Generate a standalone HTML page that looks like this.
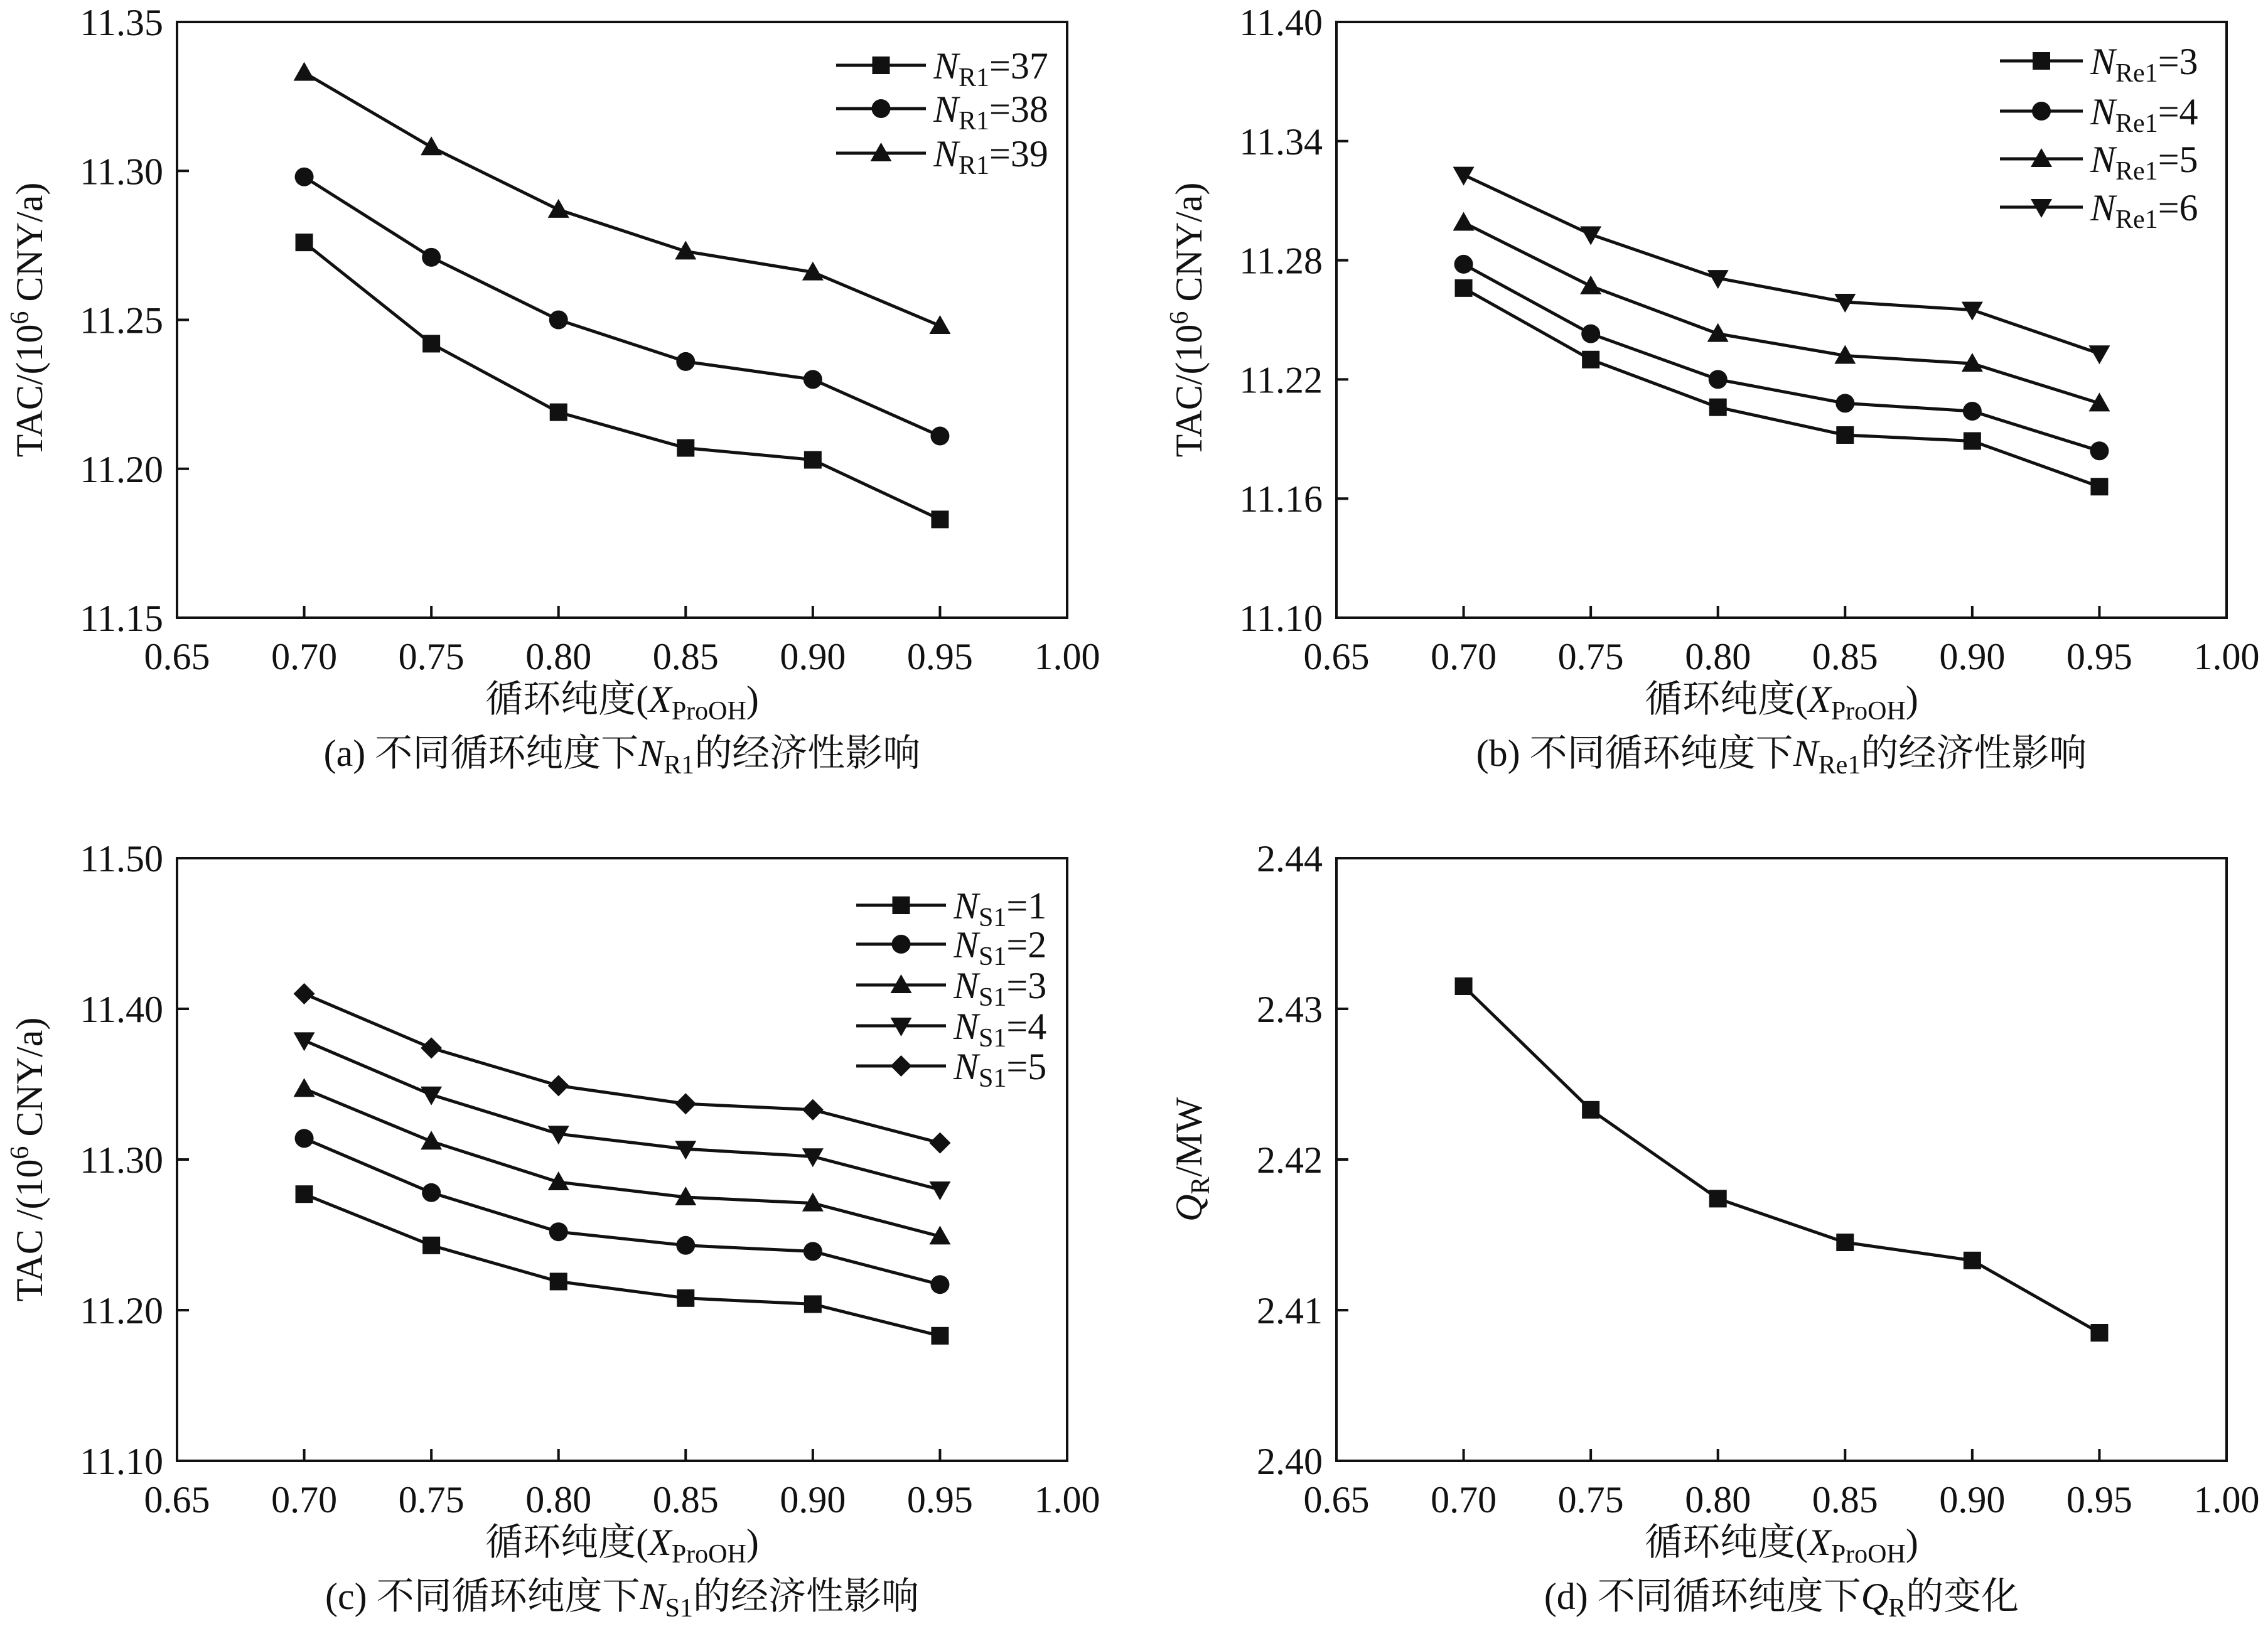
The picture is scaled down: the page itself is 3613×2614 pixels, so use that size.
<!DOCTYPE html>
<html><head><meta charset="utf-8">
<style>
html,body{margin:0;padding:0;background:#fff;}
svg{display:block;font-family:"Liberation Serif","Noto Serif CJK SC","Noto Sans CJK SC",serif;}
svg text{font-family:"Liberation Serif","Noto Serif CJK SC","Noto Sans CJK SC",serif;fill:#111;}
</style></head>
<body>
<svg id="fig" width="3613" height="2614" viewBox="0 0 3613 2614" xmlns="http://www.w3.org/2000/svg" font-family="'Liberation Serif', 'Noto Serif CJK SC', serif"></svg>
<script>
const xCats = [0.70, 0.75, 0.80, 0.85, 0.90, 0.95];
const xTicks = ["0.65","0.70","0.75","0.80","0.85","0.90","0.95","1.00"];
// panel a
const aTicks = ["11.15","11.20","11.25","11.30","11.35"];
const aN37 = [11.276, 11.242, 11.219, 11.207, 11.203, 11.183];
const aN38 = [11.298, 11.271, 11.250, 11.236, 11.230, 11.211];
const aN39 = [11.333, 11.308, 11.287, 11.273, 11.266, 11.248];
// panel b
const bTicks = ["11.10","11.16","11.22","11.28","11.34","11.40"];
const bRe3 = [11.266, 11.230, 11.206, 11.192, 11.189, 11.166];
const bRe4 = [11.278, 11.243, 11.220, 11.208, 11.204, 11.184];
const bRe5 = [11.299, 11.267, 11.243, 11.232, 11.228, 11.208];
const bRe6 = [11.323, 11.293, 11.271, 11.259, 11.255, 11.233];
// panel c
const cTicks = ["11.10","11.20","11.30","11.40","11.50"];
const cS1 = [11.277, 11.243, 11.219, 11.208, 11.204, 11.183];
const cS2 = [11.314, 11.278, 11.252, 11.243, 11.239, 11.217];
const cS3 = [11.347, 11.312, 11.285, 11.275, 11.271, 11.249];
const cS4 = [11.379, 11.343, 11.317, 11.307, 11.302, 11.280];
const cS5 = [11.410, 11.374, 11.349, 11.337, 11.333, 11.311];
// panel d
const dTicks = ["2.40","2.41","2.42","2.43","2.44"];
const dQR = [2.4315, 2.4233, 2.4174, 2.4145, 2.4133, 2.4085];

const NS="http://www.w3.org/2000/svg";
const svg=document.getElementById('fig');
const FF="'Liberation Serif', 'Noto Serif CJK SC', serif";
function mk(tag, attrs, parent){const e=document.createElementNS(NS,tag);for(const k in attrs)e.setAttribute(k,attrs[k]);if(tag==='text')e.setAttribute('font-family',FF);(parent||svg).appendChild(e);return e;}

function marker(g, type, x, y){
  let m;
  if(type==='square'){m=mk('rect',{x:x-14,y:y-14,width:28,height:28,fill:'#111'},g);}
  else if(type==='circle'){m=mk('circle',{cx:x,cy:y,r:15,fill:'#111'},g);}
  else if(type==='tri'){m=mk('polygon',{points:`${x},${y-17} ${x-17},${y+13} ${x+17},${y+13}`,fill:'#111'},g);}
  else if(type==='itri'){m=mk('polygon',{points:`${x},${y+17} ${x-17},${y-13} ${x+17},${y-13}`,fill:'#111'},g);}
  else {m=mk('polygon',{points:`${x},${y-17} ${x+17},${y} ${x},${y+17} ${x-17},${y}`,fill:'#111'},g);}
  return m;
}

function panel(o){
  const g=mk('g',{});
  
  
  const L=o.L,T=o.T,R=o.R,B=o.B;
  const xmin=0.65,xmax=1.00;
  const ymin=parseFloat(o.yTicks[0]), ymax=parseFloat(o.yTicks[o.yTicks.length-1]);
  const sx=v=>L+(v-xmin)/(xmax-xmin)*(R-L);
  const sy=v=>B-(v-ymin)/(ymax-ymin)*(B-T);
  const box=mk('rect',{x:L,y:T,width:R-L,height:B-T,fill:'none',stroke:'#111','stroke-width':4},g);
  
  
  xTicks.forEach(t=>{
    const x=sx(parseFloat(t));
    mk('line',{x1:x,y1:B,x2:x,y2:B-19,stroke:'#111','stroke-width':4},g);
    const tx=mk('text',{x:x,y:B+82,'font-size':60,'text-anchor':'middle'},g);
    tx.textContent=t;
    
    
  });
  o.yTicks.forEach(t=>{
    const y=sy(parseFloat(t));
    mk('line',{x1:L,y1:y,x2:L+19,y2:y,stroke:'#111','stroke-width':4},g);
    const tx=mk('text',{x:L-22,y:y+21,'font-size':60,'text-anchor':'end'},g);
    tx.textContent=t;
    
    
  });
  o.series.forEach((s,i)=>{
    const sg=mk('g',{},g);
    
    
    const pts=xCats.map((c,j)=>sx(c)+','+sy(s.data[j])).join(' ');
    const pl=mk('polyline',{points:pts,fill:'none',stroke:'#111','stroke-width':5},sg);
    
    
    xCats.forEach((c,j)=>{
      const m=marker(sg,s.m,sx(c),sy(s.data[j]));
      
      
    });
    if(o.leg){
      const ly=o.leg.y[i];
      const lg=mk('g',{},g);
      
      
      mk('line',{x1:o.leg.x1,y1:ly,x2:o.leg.x2,y2:ly,stroke:'#111','stroke-width':5},lg);
      marker(lg,s.m,(o.leg.x1+o.leg.x2)/2,ly);
      const t=mk('text',{x:o.leg.x2+12,y:ly+21,'font-size':60},lg);
      t.innerHTML=`<tspan font-style="italic">N</tspan><tspan font-size="42" dy="12">${o.leg.sub}</tspan><tspan dy="-12">=${s.label}</tspan>`;
    }
  });
  const xt=mk('text',{x:(L+R)/2,y:B+150,'font-size':60,'text-anchor':'middle'},g);
  xt.innerHTML='循环纯度(<tspan font-style="italic">X</tspan><tspan font-size="42" dy="12">ProOH</tspan><tspan dy="-12">)</tspan>';
  
  
  const cy=(T+B)/2, cx=L-215;
  const yt=mk('text',{x:cx,y:cy,'font-size':60,'text-anchor':'middle',transform:`rotate(-90 ${cx} ${cy})`},g);
  yt.innerHTML=o.ytitle;
  
  
  const cap=mk('text',{x:(L+R)/2,y:B+236,'font-size':60,'text-anchor':'middle'},g);
  cap.innerHTML=o.caption;
  
  
}
const tacTitle='TAC/(10<tspan font-size="42" dy="-22">6</tspan><tspan dy="22"> CNY/a)</tspan>';
panel({name:'panel-a',L:282,T:35,R:1700,B:984,yTicks:aTicks,ytitle:tacTitle,
  caption:'(a) 不同循环纯度下<tspan font-style="italic">N</tspan><tspan font-size="42" dy="12">R1</tspan><tspan dy="-12">的经济性影响</tspan>',
  leg:{x1:1332,x2:1475,y:[104,173,244],sub:'R1'},
  series:[{key:'nr1-37',label:'37',data:aN37,m:'square'},{key:'nr1-38',label:'38',data:aN38,m:'circle'},{key:'nr1-39',label:'39',data:aN39,m:'tri'}]});
panel({name:'panel-b',L:2129,T:35,R:3547,B:984,yTicks:bTicks,ytitle:tacTitle,
  caption:'(b) 不同循环纯度下<tspan font-style="italic">N</tspan><tspan font-size="42" dy="12">Re1</tspan><tspan dy="-12">的经济性影响</tspan>',
  leg:{x1:3186,x2:3318,y:[97,177,253,330],sub:'Re1'},
  series:[{key:'nre1-3',label:'3',data:bRe3,m:'square'},{key:'nre1-4',label:'4',data:bRe4,m:'circle'},{key:'nre1-5',label:'5',data:bRe5,m:'tri'},{key:'nre1-6',label:'6',data:bRe6,m:'itri'}]});
panel({name:'panel-c',L:282,T:1367,R:1700,B:2327,yTicks:cTicks,ytitle:'TAC /(10<tspan font-size="42" dy="-22">6</tspan><tspan dy="22"> CNY/a)</tspan>',
  caption:'(c) 不同循环纯度下<tspan font-style="italic">N</tspan><tspan font-size="42" dy="12">S1</tspan><tspan dy="-12">的经济性影响</tspan>',
  leg:{x1:1364,x2:1507,y:[1442,1504,1569,1634,1698],sub:'S1'},
  series:[{key:'ns1-1',label:'1',data:cS1,m:'square'},{key:'ns1-2',label:'2',data:cS2,m:'circle'},{key:'ns1-3',label:'3',data:cS3,m:'tri'},{key:'ns1-4',label:'4',data:cS4,m:'itri'},{key:'ns1-5',label:'5',data:cS5,m:'diamond'}]});
panel({name:'panel-d',L:2129,T:1367,R:3547,B:2327,yTicks:dTicks,
  ytitle:'<tspan font-style="italic">Q</tspan><tspan font-size="42" dy="12">R</tspan><tspan dy="-12">/MW</tspan>',
  caption:'(d) 不同循环纯度下<tspan font-style="italic">Q</tspan><tspan font-size="42" dy="12">R</tspan><tspan dy="-12">的变化</tspan>',
  series:[{key:'qr',label:'',data:dQR,m:'square'}]});
</script>
</body></html>
